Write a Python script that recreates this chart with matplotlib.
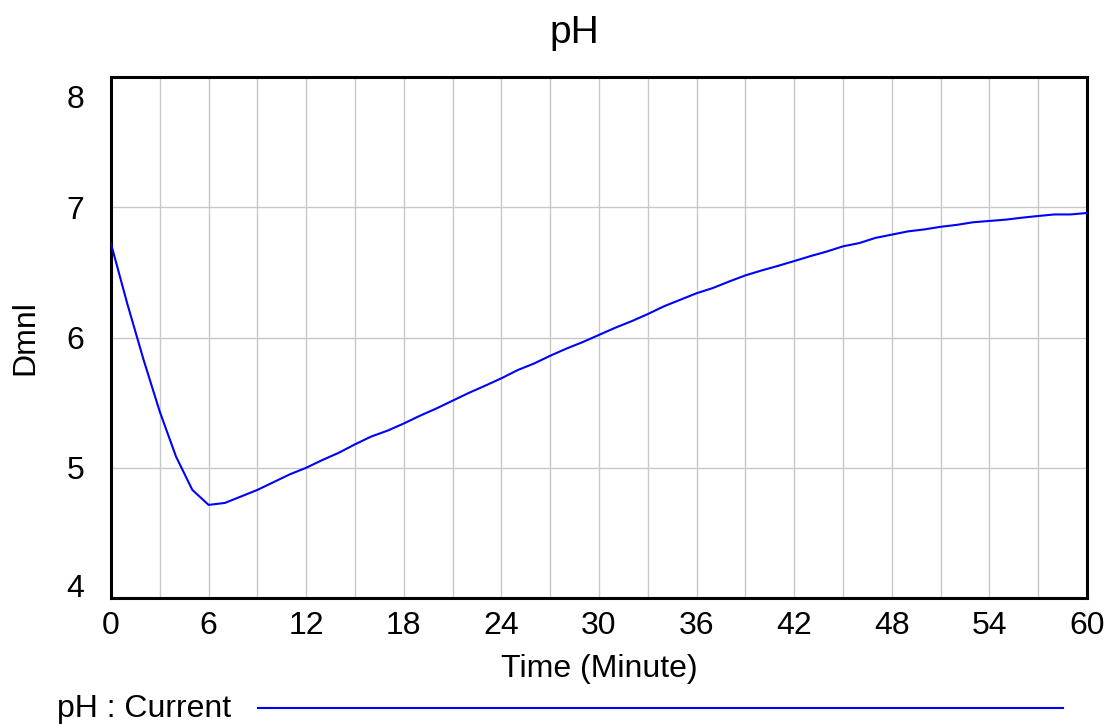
import matplotlib
matplotlib.use("Agg")
import matplotlib.pyplot as plt
from matplotlib.lines import Line2D
from matplotlib.transforms import ScaledTranslation

plt.rcParams['font.family'] = ['Liberation Sans', 'DejaVu Sans']

# pH value at each minute
minutes = list(range(0, 61))
ph = [6.72, 6.26, 5.83, 5.43, 5.085, 4.83, 4.715, 4.73, 4.78, 4.83,
      4.89, 4.95, 5.00, 5.06, 5.115, 5.18, 5.24, 5.285, 5.34, 5.40,
      5.455, 5.515, 5.575, 5.63, 5.687, 5.75, 5.80, 5.86, 5.915, 5.965,
      6.02, 6.075, 6.125, 6.18, 6.24, 6.29, 6.34, 6.38, 6.43, 6.477,
      6.515, 6.55, 6.587, 6.625, 6.66, 6.70, 6.725, 6.765, 6.79, 6.815,
      6.83, 6.85, 6.865, 6.885, 6.895, 6.905, 6.92, 6.933, 6.945, 6.945,
      6.956]

xticks = list(range(0, 61, 6))
xgrid = list(range(0, 61, 3))
yticks = [4, 5, 6, 7, 8]

fig = plt.figure(figsize=(11.09, 7.24), dpi=100)
ax = fig.add_axes([0.1001, 0.174, 0.8800, 0.7196])

ax.plot(minutes, ph, color='#0000ff', lw=1.5, zorder=3)

ax.set_xlim(0, 60)
ax.set_ylim(4, 8)
ax.set_xticks(xgrid, minor=True)
ax.set_xticks(xticks)
ax.set_yticks(yticks)
ax.grid(True, which='both', axis='x', color='#c8c8c8', lw=1.0)
ax.grid(True, axis='y', color='#c8c8c8', lw=1.0)
ax.tick_params(which='both', length=0, labelsize=23)
ax.tick_params(axis='x', pad=9)
ax.tick_params(axis='y', pad=19)
for s in ax.spines.values():
    s.set_linewidth(2.2)
    s.set_color('black')

# end labels on the y axis sit inside the plot range
ylabs = ax.get_yticklabels()
ylabs[-1].set_transform(ylabs[-1].get_transform() + ScaledTranslation(0, -0.19, fig.dpi_scale_trans))
ylabs[0].set_transform(ylabs[0].get_transform() + ScaledTranslation(0, 0.13, fig.dpi_scale_trans))

fig.text(574 / 1109, 1 - 33 / 724, 'pH', fontsize=28, ha='center', va='center')
ax.set_xlabel('Time (Minute)', fontsize=23, labelpad=10)
ax.set_ylabel('Dmnl', fontsize=23, labelpad=19)

# legend row at the bottom
fig.text(0.051, 0.021, 'pH : Current', fontsize=23, ha='left', va='center')
fig.add_artist(Line2D([0.2326, 0.9585], [0.022, 0.022], color='#0000ff', lw=1.5,
                      transform=fig.transFigure))

fig.savefig('out.png', dpi=100)
